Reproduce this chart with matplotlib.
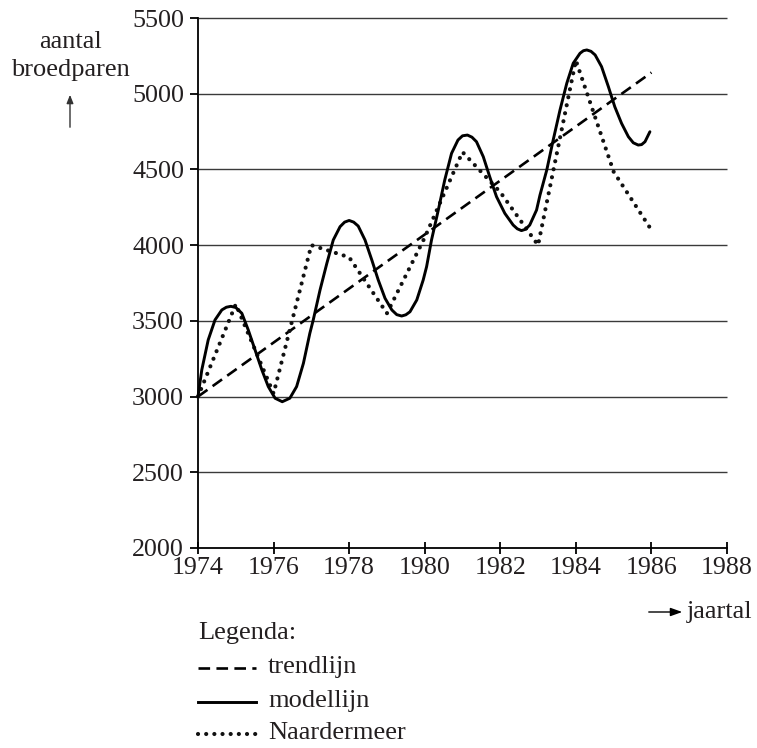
import matplotlib
matplotlib.use("Agg")
import matplotlib.pyplot as plt
from matplotlib.lines import Line2D

# ---------------- data ----------------
y_ticks = [2000, 2500, 3000, 3500, 4000, 4500, 5000, 5500]
x_ticks = [1974, 1976, 1978, 1980, 1982, 1984, 1986, 1988]

trend_years = [1974, 1986]
trend_values = [3000, 5140]

model_years = [1974.00, 1974.10, 1974.27, 1974.45, 1974.63, 1974.75, 1974.87, 1975.00,
               1975.16, 1975.33, 1975.51, 1975.69, 1975.86, 1976.04, 1976.23, 1976.43,
               1976.61, 1976.79, 1976.96, 1977.05, 1977.23, 1977.41, 1977.58, 1977.76,
               1977.88, 1978.00, 1978.12, 1978.24, 1978.42, 1978.60, 1978.77, 1978.95,
               1979.13, 1979.26, 1979.39, 1979.50, 1979.61, 1979.79, 1979.96, 1980.05,
               1980.18, 1980.36, 1980.53, 1980.71, 1980.88, 1981.00, 1981.13, 1981.25,
               1981.37, 1981.55, 1981.72, 1981.90, 1982.12, 1982.34, 1982.45, 1982.56,
               1982.67, 1982.78, 1982.96, 1983.05, 1983.23, 1983.40, 1983.58, 1983.76,
               1983.93, 1984.11, 1984.20, 1984.29, 1984.40, 1984.51, 1984.68, 1984.86,
               1985.03, 1985.21, 1985.39, 1985.52, 1985.65, 1985.74, 1985.83, 1985.96]
model_values = [3000, 3176, 3374, 3506, 3572, 3590, 3596, 3588,
                3550, 3440, 3308, 3176, 3066, 2989, 2966, 2989,
                3066, 3220, 3418, 3506, 3704, 3880, 4034, 4122,
                4152, 4163, 4152, 4126, 4034, 3902, 3770, 3649,
                3572, 3541, 3532, 3540, 3560, 3638, 3770, 3858,
                4034, 4232, 4430, 4606, 4694, 4722, 4727, 4713,
                4683, 4584, 4452, 4320, 4210, 4133, 4108, 4096,
                4105, 4133, 4232, 4330, 4496, 4694, 4892, 5069,
                5201, 5267, 5284, 5289, 5280, 5256, 5179, 5047,
                4914, 4804, 4716, 4676, 4661, 4664, 4683, 4749]

naarder_years = [1974, 1975, 1976, 1977, 1978, 1979, 1980, 1981, 1982, 1983, 1984, 1985, 1986]
naarder_values = [3000, 3610, 3020, 4000, 3920, 3550, 4050, 4615, 4350, 4000, 5220, 4485, 4100]

legend_title = "Legenda:"
legend_labels = ["trendlijn", "modellijn", "Naardermeer"]

# ---------------- figure ----------------
W, H = 757, 748
fig = plt.figure(figsize=(W / 100, H / 100), dpi=100)
serif = ["Liberation Serif", "DejaVu Serif"]
plt.rcParams["font.family"] = serif
FS = 19
TFS = 18.7
TXT = "#231f20"

def fx(px):
    return px / W

def fy(py):
    return 1 - py / H

ax_l, ax_r, ax_t, ax_b = 198, 727, 18, 548
ax = fig.add_axes([fx(ax_l), fy(ax_b), fx(ax_r - ax_l), (ax_b - ax_t) / H])
ax.set_xlim(1974, 1988)
ax.set_ylim(2000, 5500)

for s in ["top", "right"]:
    ax.spines[s].set_visible(False)
for s in ["left", "bottom"]:
    ax.spines[s].set_linewidth(1.3)
    ax.spines[s].set_color("black")

ax.hlines(y_ticks[1:], 1974, 1988, colors="#3a3a3a", linewidth=1.0, clip_on=False, zorder=1)

ax.set_xticks(x_ticks)
ax.set_yticks(y_ticks)
ax.set_xticklabels([str(v) for v in x_ticks])
ax.set_yticklabels([str(v) for v in y_ticks])
ax.tick_params(axis="x", direction="inout", length=9, width=1.3, labelsize=TFS, pad=2)
ax.tick_params(axis="y", direction="out", length=6, width=1.3, labelsize=TFS, pad=4)
for lab in ax.get_xticklabels() + ax.get_yticklabels():
    lab.set_color(TXT)

dash_style = dict(color="black", linewidth=1.9, dashes=(4.4, 2.4))
solid_style = dict(color="black", linewidth=2.1, solid_joinstyle="round", solid_capstyle="round")
dot_style = dict(color="#111111", linewidth=3.0, linestyle=(0, (0.01, 1.95)), dash_capstyle="round")

ax.plot(trend_years, trend_values, zorder=3, clip_on=False, **dash_style)
ax.plot(model_years, model_values, zorder=4, clip_on=False, **solid_style)
ax.plot(naarder_years, naarder_values, zorder=3, clip_on=False, **dot_style)

# axis titles
fig.text(fx(70), fy(42), "aantal", ha="center", va="center", fontsize=FS, color=TXT)
fig.text(fx(70), fy(70), "broedparen", ha="center", va="center", fontsize=FS, color=TXT)
fig.add_artist(matplotlib.patches.FancyArrowPatch((fx(70), fy(130)), (fx(70), fy(92)),
               transform=fig.transFigure, arrowstyle="-|>,head_length=5,head_width=2",
               color="#333333", linewidth=1.0, mutation_scale=1))
fig.add_artist(matplotlib.patches.FancyArrowPatch((fx(646), fy(612)), (fx(685), fy(612)),
               transform=fig.transFigure, arrowstyle="-|>,head_length=7,head_width=2.5",
               color="black", linewidth=1.0, mutation_scale=1))
fig.text(fx(687), fy(612), "jaartal", ha="left", va="center", fontsize=FS, color=TXT)

# legend
fig.text(fx(198), fy(633), legend_title, ha="left", va="center", fontsize=FS, color=TXT)
leg_y = [668, 702, 734]
styles = [dash_style, dict(color="black", linewidth=2.1), dot_style]
for yy, lab, st in zip(leg_y, legend_labels, styles):
    fig.add_artist(Line2D([fx(198), fx(256)], [fy(yy), fy(yy)],
                          transform=fig.transFigure, **st))
    fig.text(fx(268), fy(yy - 1), lab, ha="left", va="center", fontsize=FS, color=TXT)

fig.savefig("out.png", dpi=100)
